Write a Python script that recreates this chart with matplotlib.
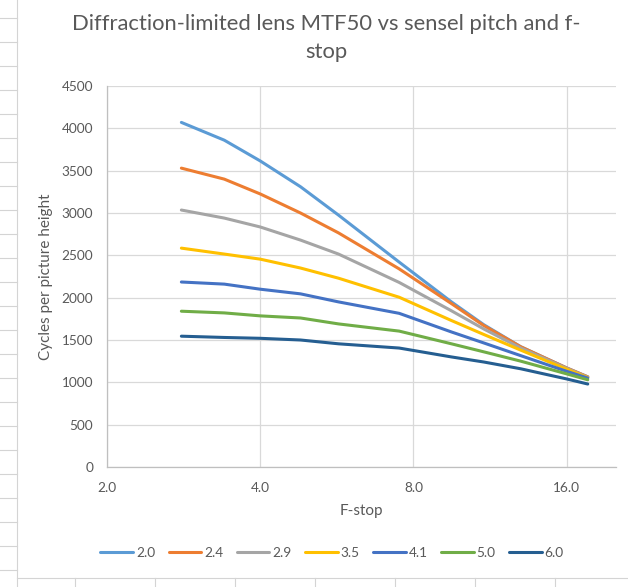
import matplotlib
matplotlib.use("Agg")
import matplotlib.pyplot as plt
from matplotlib.lines import Line2D

plt.rcParams['font.family'] = ['Lato', 'DejaVu Sans']

fstops = [2.8, 3.4, 4.0, 4.8, 5.7, 7.5, 9.5, 11.0, 13.0, 16.0, 17.6]

# sensel pitch (microns) -> MTF50 in cycles per picture height
pitch_labels = ["2.0", "2.4", "2.9", "3.5", "4.1", "5.0", "6.0"]
mtf_20 = [4070, 3860, 3615, 3310, 2975, 2420, 1950, 1680, 1420, 1170, 1065]
mtf_24 = [3530, 3400, 3225, 3000, 2765, 2340, 1930, 1670, 1420, 1170, 1065]
mtf_29 = [3035, 2940, 2835, 2680, 2515, 2180, 1845, 1630, 1405, 1165, 1060]
mtf_35 = [2585, 2515, 2455, 2350, 2230, 2005, 1730, 1565, 1380, 1155, 1055]
mtf_41 = [2185, 2160, 2100, 2045, 1950, 1815, 1595, 1465, 1315, 1130, 1050]
mtf_50 = [1840, 1820, 1785, 1760, 1690, 1605, 1455, 1360, 1250, 1100, 1030]
mtf_60 = [1545, 1530, 1520, 1500, 1455, 1405, 1300, 1240, 1160, 1040, 980]
series = [mtf_20, mtf_24, mtf_29, mtf_35, mtf_41, mtf_50, mtf_60]
colors = ["#5B9BD5", "#ED7D31", "#A5A5A5", "#FFC000", "#4472C4", "#70AD47", "#255E91"]

xticks = [2, 4, 8, 16]
xtick_labels = ["2.0", "4.0", "8.0", "16.0"]
yticks = [0, 500, 1000, 1500, 2000, 2500, 3000, 3500, 4000, 4500]

W, H = 628, 587
fig = plt.figure(figsize=(W / 100, H / 100), dpi=100)
txt = "#595959"
grid = "#D9D9D9"

# spreadsheet cell lines around the chart
cell = "#D4D4D4"
fig.add_artist(Line2D([17 / W, 17 / W], [0, 1], color=cell, lw=0.8))
fig.add_artist(Line2D([17 / W, 1], [1 - 578 / H, 1 - 578 / H], color=cell, lw=0.8))
for yy in range(18, 578, 24):
    fig.add_artist(Line2D([0, 17 / W], [1 - yy / H, 1 - yy / H], color=cell, lw=0.8))
for xx in range(75, W, 80):
    fig.add_artist(Line2D([xx / W, xx / W], [0, 1 - 578 / H], color=cell, lw=0.8))

ax = fig.add_axes([107 / W, 1 - 467 / H, (616 - 107) / W, (467 - 86) / H])
for vals, lab, c in zip(series, pitch_labels, colors):
    ax.plot(fstops, vals, color=c, lw=2.2, label=lab, solid_capstyle='round')

ax.set_xscale('log', base=2)
ax.set_xlim(2, 20)
ax.set_ylim(0, 4500)
ax.set_xticks(xticks)
ax.set_xticklabels(xtick_labels)
ax.xaxis.set_minor_locator(matplotlib.ticker.NullLocator())
ax.set_yticks(yticks)
ax.grid(True, color=grid, lw=0.9)
ax.set_axisbelow(True)
for s in ["top", "right"]:
    ax.spines[s].set_visible(False)
for s in ["left", "bottom"]:
    ax.spines[s].set_color("#BFBFBF")
    ax.spines[s].set_linewidth(0.9)
ax.tick_params(length=0, colors=txt, labelsize=9.8)
ax.tick_params(axis='x', pad=11)
ax.tick_params(axis='y', pad=10)

ax.set_xlabel("F-stop", color=txt, fontsize=11, labelpad=7)
ax.set_ylabel("Cycles per picture height", color=txt, fontsize=11, labelpad=6)

fig.text(326 / W, 1 - 38 / H, "Diffraction-limited lens MTF50 vs sensel pitch and f-\nstop",
         ha='center', va='center', color=txt, fontsize=15.8, linespacing=1.55)

fig.legend(loc='center', bbox_to_anchor=(332 / W, 1 - 553 / H), ncol=7, frameon=False,
           fontsize=9.8, handlelength=2.4, handletextpad=0.2, columnspacing=1.0,
           labelcolor=txt)

fig.savefig("out.png", dpi=100)
